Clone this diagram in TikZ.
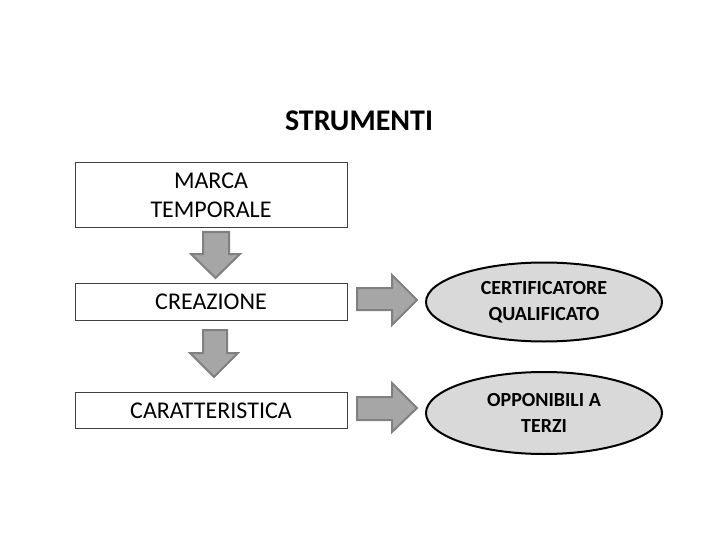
\documentclass[tikz,border=0pt]{standalone}
\usepackage{fontspec}
\setmainfont{Carlito}
\usetikzlibrary{shapes.geometric}
\definecolor{boxline}{HTML}{404040}
\definecolor{arrfill}{HTML}{A6A6A6}
\definecolor{arrline}{HTML}{808080}
\definecolor{ellfill}{HTML}{D9D9D9}
\tikzset{
  boxnode/.style={draw=boxline, line width=1pt, minimum width=272pt, inner sep=0pt, align=center, font=\fontsize{24}{29}\selectfont},
  ellnode/.style={ellipse, draw=black, line width=2pt, fill=ellfill, minimum width=236pt, inner sep=0pt, align=center, font=\bfseries\fontsize{20}{26}\selectfont},
  blockarrow/.style={draw=arrline, line width=2pt, fill=arrfill, line join=miter}
}
\begin{document}
\begin{tikzpicture}[x=1pt,y=-1pt]
\useasboundingbox (0,0) rectangle (720,540);
\node[font=\bfseries\fontsize{30}{36}\selectfont] (title) at (359,121) {STRUMENTI};
\node[boxnode, minimum height=65pt] (marca) at (211,195.5) {MARCA\\TEMPORALE};
\node[boxnode, minimum height=37pt] (crea) at (211,301.5) {CREAZIONE};
\node[boxnode, minimum height=36pt] (cara) at (211,410.5) {CARATTERISTICA};
\node[ellnode, minimum height=79pt] (cert) at (544,302) {CERTIFICATORE\\QUALIFICATO};
\node[ellnode, minimum height=82pt] (opp) at (544,413) {OPPONIBILI A\\TERZI};
% down arrows
\draw[blockarrow] (203,232) -- (229,232) -- (229,254) -- (240,254) -- (215.5,278) -- (191,254) -- (203,254) -- cycle;
\draw[blockarrow] (203,330) -- (227,330) -- (227,353) -- (238,353) -- (214,377) -- (190,353) -- (203,353) -- cycle;
% right arrows
\draw[blockarrow] (357,288) -- (392,288) -- (392,275) -- (417,300) -- (392,325) -- (392,310) -- (357,310) -- cycle;
\draw[blockarrow] (357,397) -- (392,397) -- (392,383) -- (417,408) -- (392,432) -- (392,420) -- (357,420) -- cycle;
\end{tikzpicture}
\end{document}
